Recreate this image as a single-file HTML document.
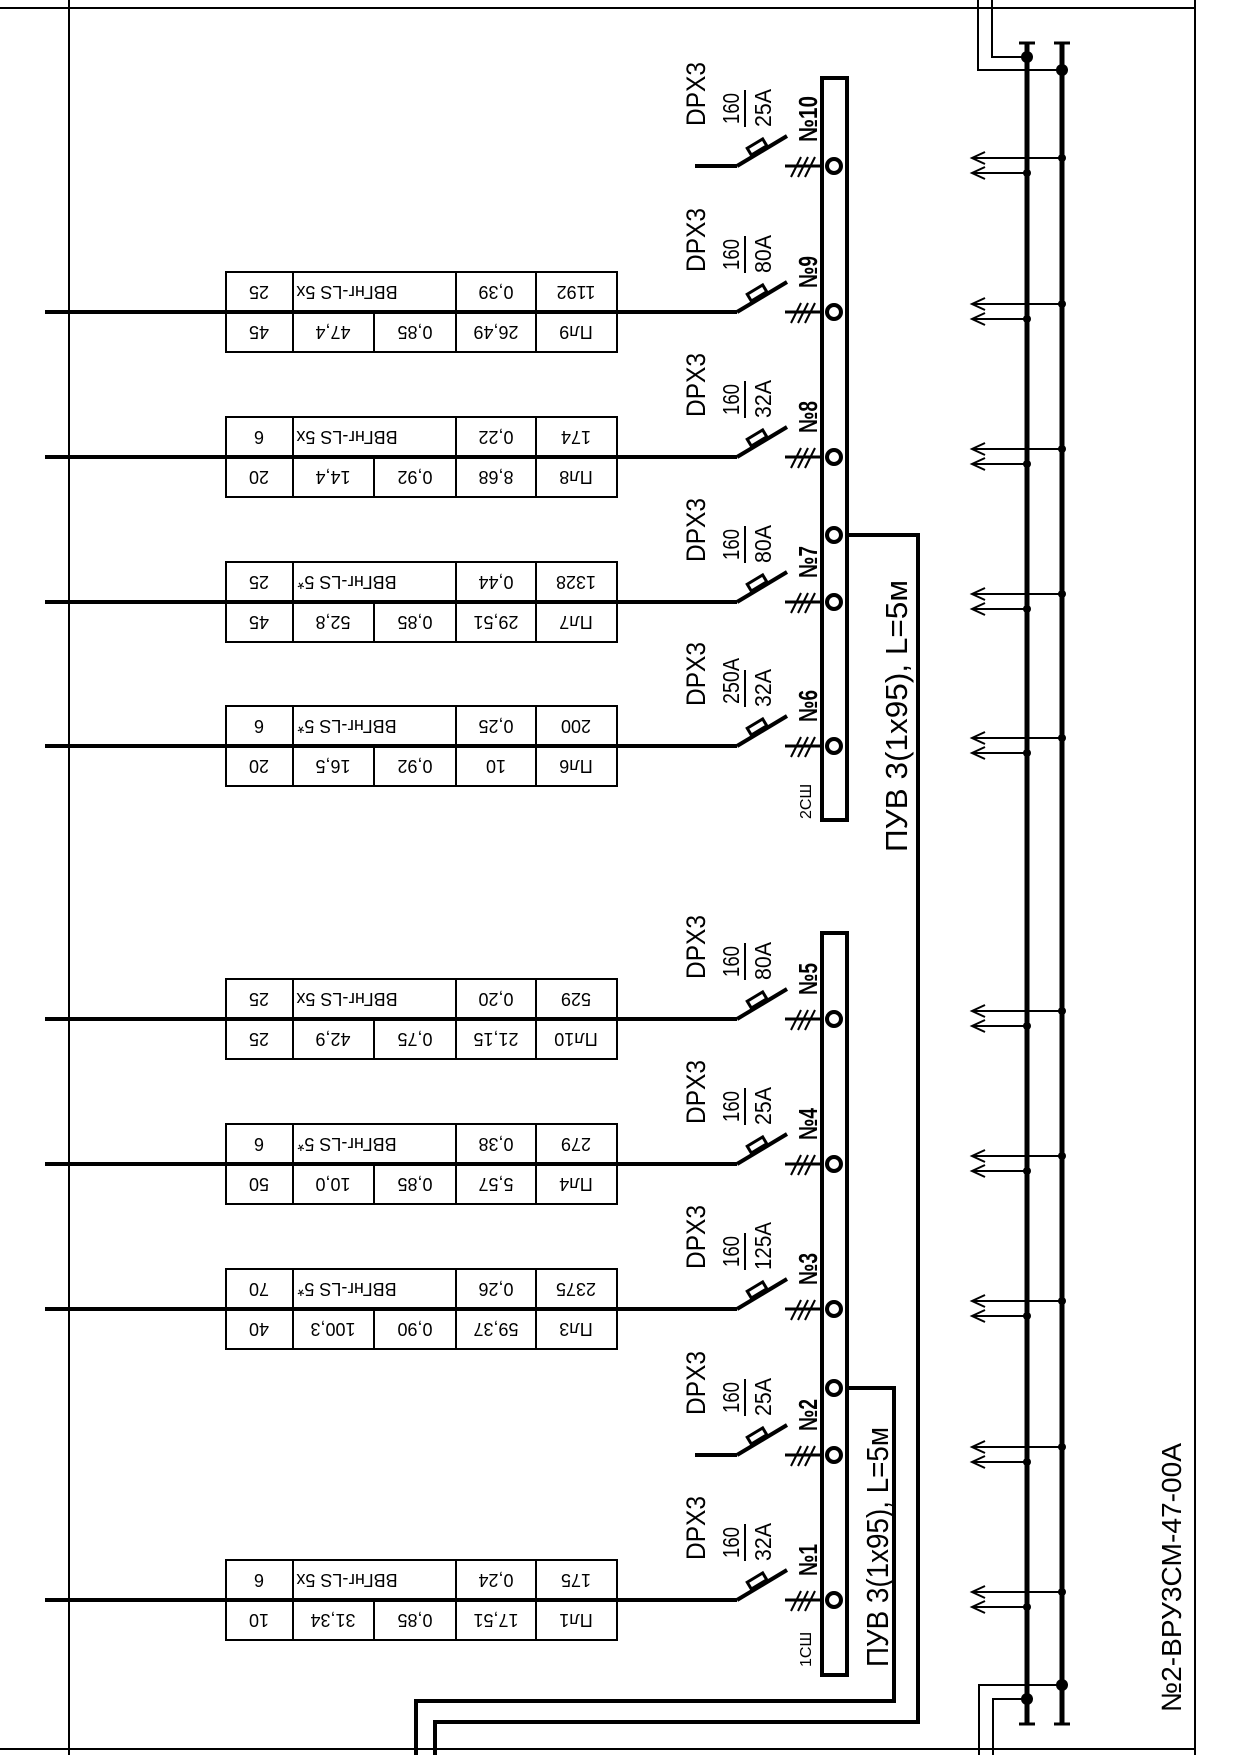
<!DOCTYPE html>
<html><head><meta charset="utf-8"><style>
html,body{margin:0;padding:0;background:#fff;}
svg{display:block;font-family:"Liberation Sans",sans-serif;}
.t{font-size:18px;text-anchor:middle;dominant-baseline:central;}
</style></head><body>
<svg width="1241" height="1755" viewBox="0 0 1241 1755" xmlns="http://www.w3.org/2000/svg">
<defs>
<g id="brk" stroke="#000" fill="none">
<line x1="737" y1="0" x2="787" y2="-30" stroke-width="4"/>
<rect x="-9" y="-4" width="18" height="8" transform="translate(757,-19) rotate(-31)" fill="#fff" stroke-width="3"/>
<line x1="785" y1="0" x2="834" y2="0" stroke-width="3"/>
<line x1="791" y1="11" x2="801" y2="-9" stroke-width="2"/>
<line x1="798" y1="11" x2="808" y2="-9" stroke-width="2"/>
<line x1="805" y1="11" x2="815" y2="-9" stroke-width="2"/>
<line x1="745" y1="-39" x2="745" y2="-76" stroke-width="2"/>
</g>
<g id="tbl" stroke="#000" fill="none" stroke-width="2">
<rect x="226" y="-40" width="391" height="80"/>
<line x1="293" y1="-40" x2="293" y2="40"/>
<line x1="374" y1="0" x2="374" y2="40"/>
<line x1="456" y1="-40" x2="456" y2="40"/>
<line x1="536" y1="-40" x2="536" y2="40"/>
</g>
<g id="arr" stroke="#000" fill="none" stroke-width="2">
<line x1="972" y1="-8" x2="1062" y2="-8"/>
<polyline points="985,-14 972,-8 985,-2"/>
<line x1="972" y1="7" x2="1027" y2="7"/>
<polyline points="985,1 972,7 985,13"/>
<circle cx="1062" cy="-8" r="4" fill="#000" stroke="none"/>
<circle cx="1027" cy="7" r="4" fill="#000" stroke="none"/>
</g>
</defs>

<!-- frame -->
<g stroke="#000" stroke-width="2" fill="none">
<line x1="0" y1="8" x2="1195" y2="8"/>
<line x1="0" y1="1749" x2="1195" y2="1749"/>
<line x1="69" y1="0" x2="69" y2="1755"/>
<line x1="1195" y1="0" x2="1195" y2="1755"/>
<!-- right bus connections -->
<polyline points="1027,57 992,57 992,0"/>
<polyline points="1062,70 978,70 978,0"/>
<polyline points="1062,1685 979,1685 979,1755"/>
<polyline points="1027,1699 993,1699 993,1755"/>
<line x1="1019" y1="43" x2="1035" y2="43" stroke-width="3"/>
<line x1="1054" y1="43" x2="1070" y2="43" stroke-width="3"/>
<line x1="1019" y1="1724" x2="1035" y2="1724" stroke-width="3"/>
<line x1="1054" y1="1724" x2="1070" y2="1724" stroke-width="3"/>
</g>
<g stroke="#000" stroke-width="5">
<line x1="1027" y1="43" x2="1027" y2="1724"/>
<line x1="1062" y1="43" x2="1062" y2="1724"/>
</g>
<g fill="#000">
<circle cx="1027" cy="57" r="6"/><circle cx="1062" cy="70" r="6"/>
<circle cx="1062" cy="1685" r="6"/><circle cx="1027" cy="1699" r="6"/>
</g>

<!-- arrows -->
<use href="#arr" y="166"/><use href="#arr" y="312"/><use href="#arr" y="457"/><use href="#arr" y="602"/><use href="#arr" y="746"/>
<use href="#arr" y="1019"/><use href="#arr" y="1164"/><use href="#arr" y="1309"/><use href="#arr" y="1455"/><use href="#arr" y="1600"/>

<!-- ПУВ cables -->
<g stroke="#000" stroke-width="4" fill="none">
<polyline points="841,535 918,535 918,1722 435,1722 435,1755"/>
<polyline points="841,1388 894,1388 894,1701 416,1701 416,1755"/>
</g>

<!-- feeders -->
<g stroke="#000" stroke-width="4">
<line x1="695" y1="166" x2="737" y2="166"/>
<line x1="45" y1="312" x2="737" y2="312"/>
<line x1="45" y1="457" x2="737" y2="457"/>
<line x1="45" y1="602" x2="737" y2="602"/>
<line x1="45" y1="746" x2="737" y2="746"/>
<line x1="45" y1="1019" x2="737" y2="1019"/>
<line x1="45" y1="1164" x2="737" y2="1164"/>
<line x1="45" y1="1309" x2="737" y2="1309"/>
<line x1="695" y1="1455" x2="737" y2="1455"/>
<line x1="45" y1="1600" x2="737" y2="1600"/>
</g>
<use href="#brk" y="166"/><use href="#brk" y="312"/><use href="#brk" y="457"/><use href="#brk" y="602"/><use href="#brk" y="746"/>
<use href="#brk" y="1019"/><use href="#brk" y="1164"/><use href="#brk" y="1309"/><use href="#brk" y="1455"/><use href="#brk" y="1600"/>

<use href="#tbl" y="312"/><use href="#tbl" y="457"/><use href="#tbl" y="602"/><use href="#tbl" y="746"/>
<use href="#tbl" y="1019"/><use href="#tbl" y="1164"/><use href="#tbl" y="1309"/><use href="#tbl" y="1600"/>

<!-- busbars -->
<g stroke="#000" stroke-width="4" fill="#fff">
<rect x="822" y="78" width="25" height="742"/>
<rect x="822" y="933" width="25" height="742"/>
</g>
<g stroke="#000" stroke-width="4" fill="#fff">
<circle cx="834" cy="166" r="7"/><circle cx="834" cy="312" r="7"/><circle cx="834" cy="457" r="7"/>
<circle cx="834" cy="535" r="7"/><circle cx="834" cy="602" r="7"/><circle cx="834" cy="746" r="7"/>
<circle cx="834" cy="1019" r="7"/><circle cx="834" cy="1164" r="7"/><circle cx="834" cy="1309" r="7"/>
<circle cx="834" cy="1388" r="7"/><circle cx="834" cy="1455" r="7"/><circle cx="834" cy="1600" r="7"/>
</g>

<!-- breaker labels -->
<g fill="#000">
<g transform="translate(0,166)"><text transform="translate(705,-40) rotate(-90)" font-size="27" textLength="64" lengthAdjust="spacingAndGlyphs">DPX3</text><text transform="translate(739,-42) rotate(-90)" font-size="23" textLength="31" lengthAdjust="spacingAndGlyphs">160</text><text transform="translate(771,-39) rotate(-90)" font-size="23" textLength="38" lengthAdjust="spacingAndGlyphs">25A</text><text transform="translate(817,-24) rotate(-90)" font-size="26" textLength="46" lengthAdjust="spacingAndGlyphs" font-weight="bold">№10</text></g>
<g transform="translate(0,312)"><text transform="translate(705,-40) rotate(-90)" font-size="27" textLength="64" lengthAdjust="spacingAndGlyphs">DPX3</text><text transform="translate(739,-42) rotate(-90)" font-size="23" textLength="31" lengthAdjust="spacingAndGlyphs">160</text><text transform="translate(771,-39) rotate(-90)" font-size="23" textLength="38" lengthAdjust="spacingAndGlyphs">80A</text><text transform="translate(817,-24) rotate(-90)" font-size="26" textLength="32" lengthAdjust="spacingAndGlyphs" font-weight="bold">№9</text></g>
<g transform="translate(0,457)"><text transform="translate(705,-40) rotate(-90)" font-size="27" textLength="64" lengthAdjust="spacingAndGlyphs">DPX3</text><text transform="translate(739,-42) rotate(-90)" font-size="23" textLength="31" lengthAdjust="spacingAndGlyphs">160</text><text transform="translate(771,-39) rotate(-90)" font-size="23" textLength="38" lengthAdjust="spacingAndGlyphs">32A</text><text transform="translate(817,-24) rotate(-90)" font-size="26" textLength="32" lengthAdjust="spacingAndGlyphs" font-weight="bold">№8</text></g>
<g transform="translate(0,602)"><text transform="translate(705,-40) rotate(-90)" font-size="27" textLength="64" lengthAdjust="spacingAndGlyphs">DPX3</text><text transform="translate(739,-42) rotate(-90)" font-size="23" textLength="31" lengthAdjust="spacingAndGlyphs">160</text><text transform="translate(771,-39) rotate(-90)" font-size="23" textLength="38" lengthAdjust="spacingAndGlyphs">80A</text><text transform="translate(817,-24) rotate(-90)" font-size="26" textLength="32" lengthAdjust="spacingAndGlyphs" font-weight="bold">№7</text></g>
<g transform="translate(0,746)"><text transform="translate(705,-40) rotate(-90)" font-size="27" textLength="64" lengthAdjust="spacingAndGlyphs">DPX3</text><text transform="translate(739,-42) rotate(-90)" font-size="23" textLength="46" lengthAdjust="spacingAndGlyphs">250A</text><text transform="translate(771,-39) rotate(-90)" font-size="23" textLength="38" lengthAdjust="spacingAndGlyphs">32A</text><text transform="translate(817,-24) rotate(-90)" font-size="26" textLength="32" lengthAdjust="spacingAndGlyphs" font-weight="bold">№6</text></g>
<g transform="translate(0,1019)"><text transform="translate(705,-40) rotate(-90)" font-size="27" textLength="64" lengthAdjust="spacingAndGlyphs">DPX3</text><text transform="translate(739,-42) rotate(-90)" font-size="23" textLength="31" lengthAdjust="spacingAndGlyphs">160</text><text transform="translate(771,-39) rotate(-90)" font-size="23" textLength="38" lengthAdjust="spacingAndGlyphs">80A</text><text transform="translate(817,-24) rotate(-90)" font-size="26" textLength="32" lengthAdjust="spacingAndGlyphs" font-weight="bold">№5</text></g>
<g transform="translate(0,1164)"><text transform="translate(705,-40) rotate(-90)" font-size="27" textLength="64" lengthAdjust="spacingAndGlyphs">DPX3</text><text transform="translate(739,-42) rotate(-90)" font-size="23" textLength="31" lengthAdjust="spacingAndGlyphs">160</text><text transform="translate(771,-39) rotate(-90)" font-size="23" textLength="38" lengthAdjust="spacingAndGlyphs">25A</text><text transform="translate(817,-24) rotate(-90)" font-size="26" textLength="32" lengthAdjust="spacingAndGlyphs" font-weight="bold">№4</text></g>
<g transform="translate(0,1309)"><text transform="translate(705,-40) rotate(-90)" font-size="27" textLength="64" lengthAdjust="spacingAndGlyphs">DPX3</text><text transform="translate(739,-42) rotate(-90)" font-size="23" textLength="31" lengthAdjust="spacingAndGlyphs">160</text><text transform="translate(771,-39) rotate(-90)" font-size="23" textLength="48" lengthAdjust="spacingAndGlyphs">125A</text><text transform="translate(817,-24) rotate(-90)" font-size="26" textLength="32" lengthAdjust="spacingAndGlyphs" font-weight="bold">№3</text></g>
<g transform="translate(0,1455)"><text transform="translate(705,-40) rotate(-90)" font-size="27" textLength="64" lengthAdjust="spacingAndGlyphs">DPX3</text><text transform="translate(739,-42) rotate(-90)" font-size="23" textLength="31" lengthAdjust="spacingAndGlyphs">160</text><text transform="translate(771,-39) rotate(-90)" font-size="23" textLength="38" lengthAdjust="spacingAndGlyphs">25A</text><text transform="translate(817,-24) rotate(-90)" font-size="26" textLength="32" lengthAdjust="spacingAndGlyphs" font-weight="bold">№2</text></g>
<g transform="translate(0,1600)"><text transform="translate(705,-40) rotate(-90)" font-size="27" textLength="64" lengthAdjust="spacingAndGlyphs">DPX3</text><text transform="translate(739,-42) rotate(-90)" font-size="23" textLength="31" lengthAdjust="spacingAndGlyphs">160</text><text transform="translate(771,-39) rotate(-90)" font-size="23" textLength="38" lengthAdjust="spacingAndGlyphs">32A</text><text transform="translate(817,-24) rotate(-90)" font-size="26" textLength="32" lengthAdjust="spacingAndGlyphs" font-weight="bold">№1</text></g>

<text transform="translate(811,819) rotate(-90)" font-size="16">2СШ</text>
<text transform="translate(811,1667) rotate(-90)" font-size="16">1СШ</text>
<text transform="translate(907,852) rotate(-90)" font-size="31" textLength="272" lengthAdjust="spacingAndGlyphs">ПУВ 3(1x95), L=5м</text>
<text transform="translate(888,1667) rotate(-90)" font-size="31" textLength="240" lengthAdjust="spacingAndGlyphs">ПУВ 3(1x95), L=5м</text>
<text transform="translate(1181,1712) rotate(-90)" font-size="28" textLength="269" lengthAdjust="spacingAndGlyphs">№2-ВРУ3СМ-47-00А</text>
</g>

<!-- table texts (upside down) -->
<g fill="#000" class="t">
<g transform="translate(0,312)">
<text class="t" transform="rotate(180,259,-20)" x="259" y="-20">25</text><text class="t" transform="rotate(180,347,-20)" x="347" y="-20">ВВГнг-LS 5x</text><text class="t" transform="rotate(180,496,-20)" x="496" y="-20">0,39</text><text class="t" transform="rotate(180,576,-20)" x="576" y="-20">1192</text>
<text class="t" transform="rotate(180,259,20)" x="259" y="20">45</text><text class="t" transform="rotate(180,333,20)" x="333" y="20">47,4</text><text class="t" transform="rotate(180,415,20)" x="415" y="20">0,85</text><text class="t" transform="rotate(180,496,20)" x="496" y="20">26,49</text><text class="t" transform="rotate(180,576,20)" x="576" y="20">Пл9</text></g>
<g transform="translate(0,457)">
<text class="t" transform="rotate(180,259,-20)" x="259" y="-20">6</text><text class="t" transform="rotate(180,347,-20)" x="347" y="-20">ВВГнг-LS 5x</text><text class="t" transform="rotate(180,496,-20)" x="496" y="-20">0,22</text><text class="t" transform="rotate(180,576,-20)" x="576" y="-20">174</text>
<text class="t" transform="rotate(180,259,20)" x="259" y="20">20</text><text class="t" transform="rotate(180,333,20)" x="333" y="20">14,4</text><text class="t" transform="rotate(180,415,20)" x="415" y="20">0,92</text><text class="t" transform="rotate(180,496,20)" x="496" y="20">8,68</text><text class="t" transform="rotate(180,576,20)" x="576" y="20">Пл8</text></g>
<g transform="translate(0,602)">
<text class="t" transform="rotate(180,259,-20)" x="259" y="-20">25</text><text class="t" transform="rotate(180,347,-20)" x="347" y="-20">ВВГнг-LS 5*</text><text class="t" transform="rotate(180,496,-20)" x="496" y="-20">0,44</text><text class="t" transform="rotate(180,576,-20)" x="576" y="-20">1328</text>
<text class="t" transform="rotate(180,259,20)" x="259" y="20">45</text><text class="t" transform="rotate(180,333,20)" x="333" y="20">52,8</text><text class="t" transform="rotate(180,415,20)" x="415" y="20">0,85</text><text class="t" transform="rotate(180,496,20)" x="496" y="20">29,51</text><text class="t" transform="rotate(180,576,20)" x="576" y="20">Пл7</text></g>
<g transform="translate(0,746)">
<text class="t" transform="rotate(180,259,-20)" x="259" y="-20">6</text><text class="t" transform="rotate(180,347,-20)" x="347" y="-20">ВВГнг-LS 5*</text><text class="t" transform="rotate(180,496,-20)" x="496" y="-20">0,25</text><text class="t" transform="rotate(180,576,-20)" x="576" y="-20">200</text>
<text class="t" transform="rotate(180,259,20)" x="259" y="20">20</text><text class="t" transform="rotate(180,333,20)" x="333" y="20">16,5</text><text class="t" transform="rotate(180,415,20)" x="415" y="20">0,92</text><text class="t" transform="rotate(180,496,20)" x="496" y="20">10</text><text class="t" transform="rotate(180,576,20)" x="576" y="20">Пл6</text></g>
<g transform="translate(0,1019)">
<text class="t" transform="rotate(180,259,-20)" x="259" y="-20">25</text><text class="t" transform="rotate(180,347,-20)" x="347" y="-20">ВВГнг-LS 5x</text><text class="t" transform="rotate(180,496,-20)" x="496" y="-20">0,20</text><text class="t" transform="rotate(180,576,-20)" x="576" y="-20">529</text>
<text class="t" transform="rotate(180,259,20)" x="259" y="20">25</text><text class="t" transform="rotate(180,333,20)" x="333" y="20">42,9</text><text class="t" transform="rotate(180,415,20)" x="415" y="20">0,75</text><text class="t" transform="rotate(180,496,20)" x="496" y="20">21,15</text><text class="t" transform="rotate(180,576,20)" x="576" y="20">Пл10</text></g>
<g transform="translate(0,1164)">
<text class="t" transform="rotate(180,259,-20)" x="259" y="-20">6</text><text class="t" transform="rotate(180,347,-20)" x="347" y="-20">ВВГнг-LS 5*</text><text class="t" transform="rotate(180,496,-20)" x="496" y="-20">0,38</text><text class="t" transform="rotate(180,576,-20)" x="576" y="-20">279</text>
<text class="t" transform="rotate(180,259,20)" x="259" y="20">50</text><text class="t" transform="rotate(180,333,20)" x="333" y="20">10,0</text><text class="t" transform="rotate(180,415,20)" x="415" y="20">0,85</text><text class="t" transform="rotate(180,496,20)" x="496" y="20">5,57</text><text class="t" transform="rotate(180,576,20)" x="576" y="20">Пл4</text></g>
<g transform="translate(0,1309)">
<text class="t" transform="rotate(180,259,-20)" x="259" y="-20">70</text><text class="t" transform="rotate(180,347,-20)" x="347" y="-20">ВВГнг-LS 5*</text><text class="t" transform="rotate(180,496,-20)" x="496" y="-20">0,26</text><text class="t" transform="rotate(180,576,-20)" x="576" y="-20">2375</text>
<text class="t" transform="rotate(180,259,20)" x="259" y="20">40</text><text class="t" transform="rotate(180,333,20)" x="333" y="20">100,3</text><text class="t" transform="rotate(180,415,20)" x="415" y="20">0,90</text><text class="t" transform="rotate(180,496,20)" x="496" y="20">59,37</text><text class="t" transform="rotate(180,576,20)" x="576" y="20">Пл3</text></g>
<g transform="translate(0,1600)">
<text class="t" transform="rotate(180,259,-20)" x="259" y="-20">6</text><text class="t" transform="rotate(180,347,-20)" x="347" y="-20">ВВГнг-LS 5x</text><text class="t" transform="rotate(180,496,-20)" x="496" y="-20">0,24</text><text class="t" transform="rotate(180,576,-20)" x="576" y="-20">175</text>
<text class="t" transform="rotate(180,259,20)" x="259" y="20">10</text><text class="t" transform="rotate(180,333,20)" x="333" y="20">31,34</text><text class="t" transform="rotate(180,415,20)" x="415" y="20">0,85</text><text class="t" transform="rotate(180,496,20)" x="496" y="20">17,51</text><text class="t" transform="rotate(180,576,20)" x="576" y="20">Пл1</text></g>
</g>
</svg>
</body></html>
